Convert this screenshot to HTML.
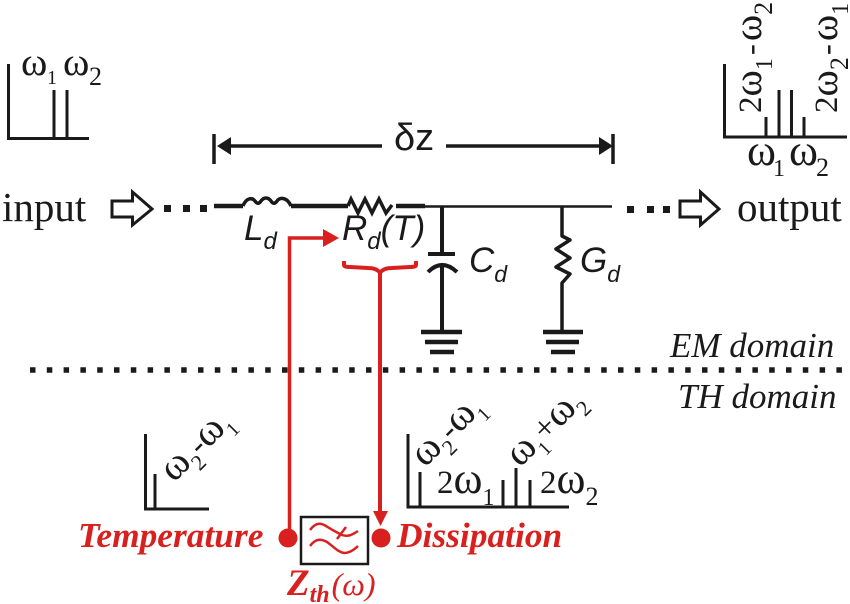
<!DOCTYPE html>
<html><head><meta charset="utf-8"><style>
html,body{margin:0;padding:0;background:#fff}
svg{display:block}
.s{font-family:"Liberation Serif",serif;fill:#1a1a1a}
.a{font-family:"Liberation Sans",sans-serif;font-style:italic;fill:#1a1a1a}
.r{font-family:"Liberation Serif",serif;font-style:italic;font-weight:bold;fill:#d8211f}
</style></head><body>
<svg width="850" height="604" viewBox="0 0 850 604" xmlns="http://www.w3.org/2000/svg">
<rect width="850" height="604" fill="#fff"/>
<g fill="none" stroke="#1a1a1a" stroke-width="3">
<path d="M8.500 64V138.500H89M54 90V138M67 90V138"/>
<path d="M724.500 64V137H847M766 117V137M779 90V137M791.500 90V137M804 117V137"/>
<path d="M145.500 434V509H209M155 474V509"/>
<path d="M408 434V507H569M420 472V507M503 480V507M516 468V507M530 480V507"/>
<path d="M112 201H132.500V192L152 209L132.500 225V217H112Z" stroke-width="3"/>
<path d="M680 201H700.500V192L719 209L700.500 225V217H680Z" stroke-width="3"/>
<path d="M214 134V164M613 134V164M228 146H382M446 146H600" stroke-width="3.500"/>
<path d="M214 206H243M291 206H348M396 206H425" stroke-width="4.500"/>
<path d="M424 206.500H612" stroke-width="2.500"/>
<path d="M243 206C246 198 252 197 255 201C257 204 259 204 261 201C264 197 268 197 271 201C273 204 275 204 277 201C280 197 287 197 291 206" stroke-width="3.500"/>
<path d="M348 206L351 199L358 213L365 199L372 213L379 199L386 213L392 205" stroke-width="3.500"/>
<path d="M442 206V254M428 254H455M428 272Q442 258 457 272M442 266V332" stroke-width="4"/>
<path d="M421 332H462M425 342H458M430 352H454" stroke-width="4.500"/>
<path d="M562 206V236L570 240L556 249L570 258L556 267L570 274L562 283V332" stroke-width="3.500" stroke-linejoin="round"/>
<path d="M543 332H583M546 342H579M551 352H575" stroke-width="4.500"/>
<path d="M30 370H850" stroke-width="5.500" stroke-dasharray="5.500 11.300"/>
<rect x="301" y="517" width="67" height="47" stroke-width="2.500"/>
</g>
<g fill="#1a1a1a">
<path d="M217 146L231 137V155Z"/>
<path d="M613 146L599 137V155Z"/>
<rect x="164" y="205" width="7" height="7"/><rect x="183" y="205" width="7" height="7"/><rect x="200" y="205" width="7" height="7"/>
<rect x="627" y="206" width="7" height="7"/><rect x="647" y="206" width="7" height="7"/><rect x="663" y="206" width="7" height="7"/>
</g>
<g fill="none" stroke="#d8211f" stroke-width="3.500">
<path d="M289.500 530V238H325"/>
<path d="M380 270V514" stroke-width="4"/>
<path d="M344 261V265Q344 267 350 267L368 268Q377 268 380 273Q383 268 392 268L410 267Q416 267 416 265V261" stroke-width="4"/>
<path d="M310 530C316 522 321 523 326 526C332 530 336 532 342 535C348 537 352 535 358 531M337 539L346 527M310 546C316 538 321 539 327 542C334 547 338 552 344 553C349 553 353 551 358 546" stroke-width="2.500"/>
</g>
<g fill="#d8211f">
<path d="M323 229V247L339 238Z"/>
<path d="M373 511H388L380.500 526Z"/>
<circle cx="288" cy="538" r="9.500"/>
<circle cx="381" cy="538" r="9.500"/>
</g>
<text class="s" x="21" y="75" font-size="40">ω</text><text class="s" x="47" y="84" font-size="20">1</text>
<text class="s" x="63" y="75" font-size="40">ω</text><text class="s" x="89" y="85" font-size="26">2</text>
<text class="s" x="747" y="165" font-size="44">ω</text><text class="s" x="773" y="176" font-size="24">1</text>
<text class="s" x="789" y="165" font-size="44">ω</text><text class="s" x="816" y="176" font-size="26">2</text>
<text class="s" x="2" y="221" font-size="41">input</text>
<text class="s" x="737" y="221" font-size="41">output</text>
<text class="s" transform="translate(761 113) rotate(-90)" font-size="33">2<tspan font-size="40">ω</tspan><tspan font-size="24" dy="11">1</tspan><tspan dy="-11" dx="3">-</tspan><tspan font-size="40" dx="3">ω</tspan><tspan font-size="26" dy="11">2</tspan></text>
<text class="s" transform="translate(837 113) rotate(-90)" font-size="33">2<tspan font-size="40">ω</tspan><tspan font-size="26" dy="11">2</tspan><tspan dy="-11" dx="2">-</tspan><tspan font-size="40" dx="3">ω</tspan><tspan font-size="24" dy="11">1</tspan></text>
<text class="s" transform="translate(174 483) rotate(-45)" font-size="33"><tspan font-size="40">ω</tspan><tspan font-size="22" dy="10">2</tspan><tspan dy="-10">-</tspan><tspan font-size="40">ω</tspan><tspan font-size="20" dy="10">1</tspan></text>
<text class="s" transform="translate(425 468) rotate(-45)" font-size="33"><tspan font-size="40">ω</tspan><tspan font-size="22" dy="10">2</tspan><tspan dy="-10">-</tspan><tspan font-size="40">ω</tspan><tspan font-size="20" dy="10">1</tspan></text>
<text class="s" transform="translate(520 468) rotate(-45)" font-size="33"><tspan font-size="40">ω</tspan><tspan font-size="20" dy="10">1</tspan><tspan dy="-10" font-size="34">+</tspan><tspan font-size="40">ω</tspan><tspan font-size="22" dy="10">2</tspan></text>
<text class="s" x="437" y="493" font-size="33">2<tspan font-size="44">ω</tspan><tspan font-size="24" dy="12">1</tspan></text>
<text class="s" x="540" y="493" font-size="33">2<tspan font-size="44">ω</tspan><tspan font-size="26" dy="12">2</tspan></text>
<text class="s" x="670" y="357" font-size="35" font-style="italic">EM domain</text>
<text class="s" x="678" y="408" font-size="35" font-style="italic">TH domain</text>
<text class="s" x="394" y="150" font-size="38" style="font-family:'Liberation Sans',sans-serif">δz</text>
<text class="a" x="244" y="240" font-size="35">L<tspan font-size="24" dy="9">d</tspan></text>
<text class="a" x="342" y="240" font-size="35">R<tspan font-size="24" dy="9">d</tspan><tspan dy="-9">(T)</tspan></text>
<text class="a" x="469" y="272" font-size="35">C<tspan font-size="23" dy="10">d</tspan></text>
<text class="a" x="580" y="272" font-size="35">G<tspan font-size="23" dy="10">d</tspan></text>
<text class="r" x="78" y="547" font-size="35.400">Temperature</text>
<text class="r" x="397" y="547" font-size="35.400">Dissipation</text>
<text class="r" x="287" y="595" font-size="37">Z<tspan font-size="24" dy="7">th</tspan><tspan dy="-7" font-weight="normal" font-size="32" dx="2">(ω)</tspan></text>
</svg>
</body></html>
